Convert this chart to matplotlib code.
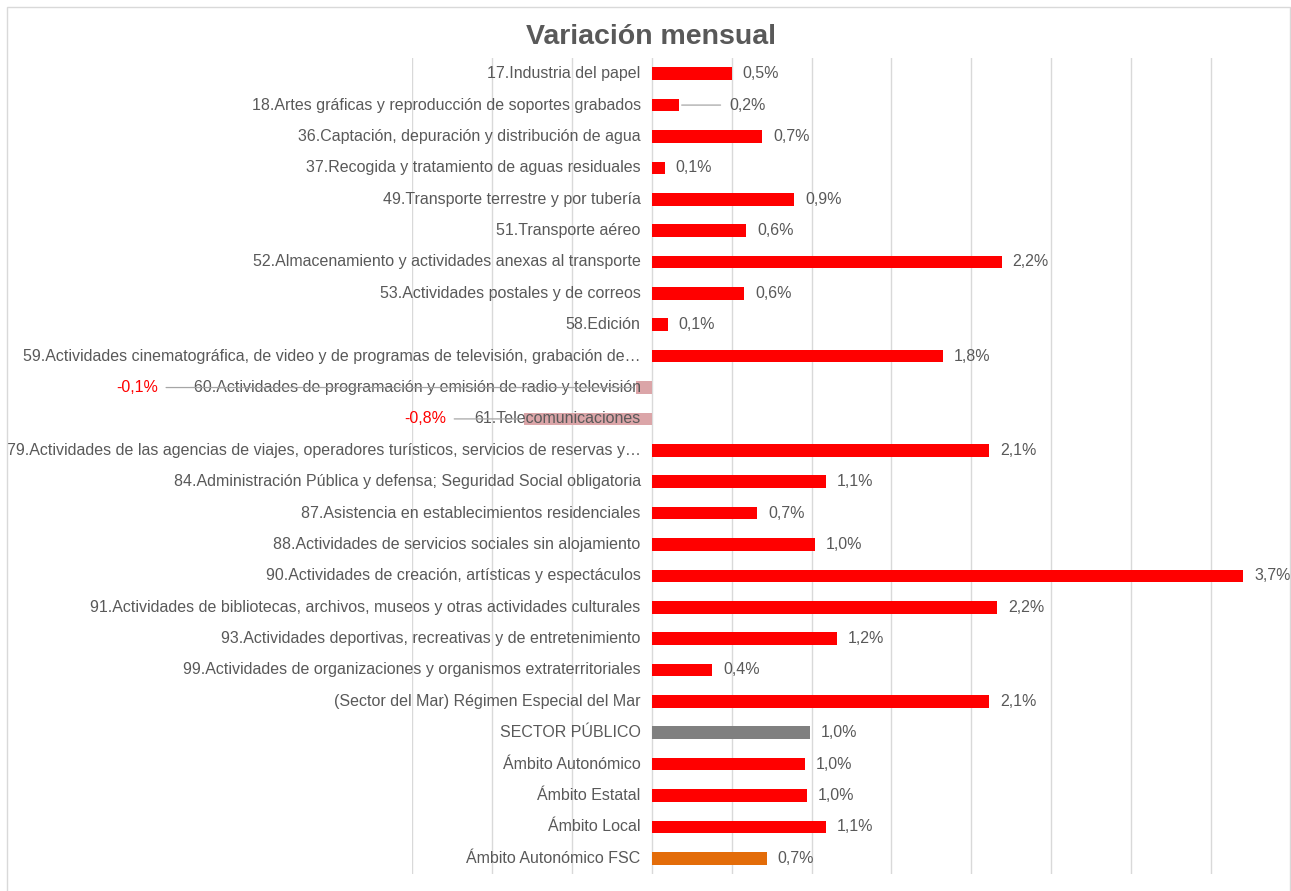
import matplotlib
matplotlib.use("Agg")
import matplotlib.pyplot as plt
from matplotlib.patches import Rectangle

categories = [
    "17.Industria del papel",
    "18.Artes gráficas y reproducción de soportes grabados",
    "36.Captación, depuración y distribución de agua",
    "37.Recogida y tratamiento de aguas residuales",
    "49.Transporte terrestre y por tubería",
    "51.Transporte aéreo",
    "52.Almacenamiento y actividades anexas al transporte",
    "53.Actividades postales y de correos",
    "58.Edición",
    "59.Actividades cinematográfica, de video y de programas de televisión, grabación de…",
    "60.Actividades de programación y emisión de radio y televisión",
    "61.Telecomunicaciones",
    "79.Actividades de las agencias de viajes, operadores turísticos, servicios de reservas y…",
    "84.Administración Pública y defensa; Seguridad Social obligatoria",
    "87.Asistencia en establecimientos residenciales",
    "88.Actividades de servicios sociales sin alojamiento",
    "90.Actividades de creación, artísticas y espectáculos",
    "91.Actividades de bibliotecas, archivos, museos y otras actividades culturales",
    "93.Actividades deportivas, recreativas y de entretenimiento",
    "99.Actividades de organizaciones y organismos extraterritoriales",
    "(Sector del Mar) Régimen Especial del Mar",
    "SECTOR PÚBLICO",
    "Ámbito Autonómico",
    "Ámbito Estatal",
    "Ámbito Local",
    "Ámbito Autonómico FSC",
]

values = [0.50, 0.17, 0.69, 0.08, 0.89, 0.59, 2.19, 0.58, 0.10, 1.82,
          -0.10, -0.80, 2.11, 1.09, 0.66, 1.02, 3.70, 2.16, 1.16, 0.38,
          2.11, 0.99, 0.96, 0.97, 1.09, 0.72]

title = "Variación mensual"
x_ticks = [-1.5, -1.0, -0.5, 0.0, 0.5, 1.0, 1.5, 2.0, 2.5, 3.0, 3.5, 4.0]

RED = "#FF0000"
GRAY = "#808080"
ORANGE = "#E36C09"
PINK = "#DBA5A8"
TXT = "#595959"
GRID = "#D9D9D9"

colors = []
for c, v in zip(categories, values):
    if c == "SECTOR PÚBLICO":
        colors.append(GRAY)
    elif c == "Ámbito Autonómico FSC":
        colors.append(ORANGE)
    elif v < 0:
        colors.append(PINK)
    else:
        colors.append(RED)

# special label placements (pixel offsets from bar end)
special = {1: 50, 10: -478, 11: -78}

W, H = 1291, 891
fig = plt.figure(figsize=(W / 100, H / 100), dpi=100)
ax = fig.add_axes([412 / W, 1 - 874 / H, (W - 412) / W, (874 - 58) / H])

n = len(categories)
ys = list(range(n))
ax.barh(ys, values, height=0.4, color=colors, zorder=2)
ax.set_ylim(n - 0.5, -0.5)
ax.set_xlim(x_ticks[0], x_ticks[-1])
ax.set_xticks(x_ticks)
for xt in x_ticks:
    ax.axvline(xt, color=GRID, lw=1.0, zorder=0)
ax.set_yticks([])
ax.set_xticklabels([])
ax.tick_params(length=0)
for s in ax.spines.values():
    s.set_visible(False)
ax.patch.set_alpha(0)

FONT = "Liberation Sans"
FS = 11.5

for i, (c, v) in enumerate(zip(categories, values)):
    ax.annotate(c, xy=(0, i), xytext=(-11, 0), textcoords="offset pixels",
                ha="right", va="center", fontsize=FS, color=TXT,
                family=FONT, zorder=3, annotation_clip=False)
    lab = ("%.1f%%" % v).replace(".", ",")
    if i in special:
        off = special[i]
        ha = "left" if off > 0 else "right"
        col = TXT if v >= 0 else RED
        ax.annotate(lab, xy=(v, i), xytext=(off, 0), textcoords="offset pixels",
                    ha=ha, va="center", fontsize=FS, color=col, family=FONT,
                    zorder=4, annotation_clip=False,
                    arrowprops=dict(arrowstyle="-", color="#A6A6A6", lw=0.9,
                                    shrinkA=4, shrinkB=2))
    else:
        ax.annotate(lab, xy=(v, i), xytext=(11, 0), textcoords="offset pixels",
                    ha="left", va="center", fontsize=FS, color=TXT,
                    family=FONT, zorder=4, annotation_clip=False)

fig.text(651 / W, 1 - 37 / H, title, ha="center", va="center",
         fontsize=20.5, fontweight="bold", color=TXT, family=FONT)

fig.patches.append(Rectangle((7 / W, -0.01), (1290 - 7) / W, 1 - 7 / H + 0.01,
                             transform=fig.transFigure, fill=False,
                             edgecolor=GRID, lw=1.0))

fig.savefig("out.png", dpi=100)
